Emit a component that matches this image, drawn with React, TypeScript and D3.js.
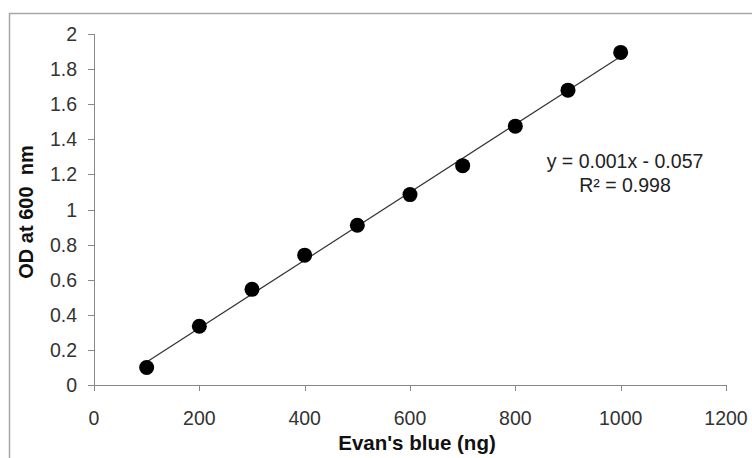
import React from "react";
import * as d3 from "d3";

// Evan's blue standard curve
const amounts = [100, 200, 300, 400, 500, 600, 700, 800, 900, 1000];
const odValues = [0.1, 0.335, 0.545, 0.74, 0.91, 1.085, 1.25, 1.475, 1.68, 1.895];
const xTicks = [0, 200, 400, 600, 800, 1000, 1200];
const yTicks = [0, 0.2, 0.4, 0.6, 0.8, 1, 1.2, 1.4, 1.6, 1.8, 2];
const equationLines = ["y = 0.001x - 0.057", "R² = 0.998"];

const width = 752;
const height = 458;
const margin = { left: 94, right: 26, top: 34, bottom: 73 };
const font = "'Liberation Sans', Arial, sans-serif";

const App = () => {
    const x = d3
        .scaleLinear()
        .domain([0, 1200])
        .range([margin.left, width - margin.right]);
    const y = d3
        .scaleLinear()
        .domain([0, 2])
        .range([height - margin.bottom, margin.top]);

    // least squares trendline through the points
    const mx = d3.mean(amounts);
    const my = d3.mean(odValues);
    let sxy = 0;
    let sxx = 0;
    amounts.forEach((a, i) => {
        sxy += (a - mx) * (odValues[i] - my);
        sxx += (a - mx) * (a - mx);
    });
    const slope = sxy / sxx;
    const icpt = my - slope * mx;
    const x0 = d3.min(amounts);
    const x1 = d3.max(amounts);
    const trend = d3.line()([
        [x(x0), y(icpt + slope * x0)],
        [x(x1), y(icpt + slope * x1)],
    ]);

    const axisColor = "#888";
    const bottom = y(0);
    const tickFont = 19.5;

    return (
        <svg
            width={width}
            height={height}
            style={{ position: "absolute", left: 0, top: 0 }}
            fontFamily={font}
        >
            <rect x={0} y={0} width={width} height={height} fill="#fff" />
            <rect
                x={9.5}
                y={13.5}
                width={900}
                height={600}
                fill="none"
                stroke="#a6a6a6"
                strokeWidth={1.5}
            />

            {/* y axis */}
            <line
                x1={margin.left + 0.5}
                x2={margin.left + 0.5}
                y1={y(2)}
                y2={bottom}
                stroke={axisColor}
            />
            {yTicks.map((t) => (
                <g key={"y" + t}>
                    <line
                        x1={margin.left - 6}
                        x2={margin.left}
                        y1={Math.round(y(t)) + 0.5}
                        y2={Math.round(y(t)) + 0.5}
                        stroke={axisColor}
                    />
                    <text
                        x={77}
                        y={y(t) + 7}
                        textAnchor="end"
                        fontSize={tickFont}
                        fill="#333"
                    >
                        {d3.format("~g")(t)}
                    </text>
                </g>
            ))}

            {/* x axis */}
            <line
                x1={x(0)}
                x2={x(1200)}
                y1={Math.round(bottom) + 0.5}
                y2={Math.round(bottom) + 0.5}
                stroke={axisColor}
            />
            {xTicks.map((t) => (
                <g key={"x" + t}>
                    <line
                        x1={Math.round(x(t)) + 0.5}
                        x2={Math.round(x(t)) + 0.5}
                        y1={bottom}
                        y2={bottom + 6}
                        stroke={axisColor}
                    />
                    <text
                        x={x(t)}
                        y={425}
                        textAnchor="middle"
                        fontSize={tickFont}
                        fill="#333"
                    >
                        {t}
                    </text>
                </g>
            ))}

            <text
                x={417}
                y={450}
                textAnchor="middle"
                fontSize={20.5}
                fontWeight="bold"
                fill="#111"
            >
                Evan's blue (ng)
            </text>
            <text
                transform="translate(33, 212) rotate(-90)"
                textAnchor="middle"
                fontSize={20}
                fontWeight="bold"
                fill="#111"
                style={{ whiteSpace: "pre" }}
            >
                OD at 600  nm
            </text>

            <path d={trend} stroke="#333" strokeWidth={1.2} fill="none" />
            {amounts.map((a, i) => (
                <circle key={a} cx={x(a)} cy={y(odValues[i])} r={7.5} fill="#000" />
            ))}

            {equationLines.map((l, i) => (
                <text
                    key={l}
                    x={625}
                    y={168 + i * 24}
                    textAnchor="middle"
                    fontSize={19.5}
                    fill="#222"
                >
                    {l}
                </text>
            ))}
        </svg>
    );
};

export default App;
